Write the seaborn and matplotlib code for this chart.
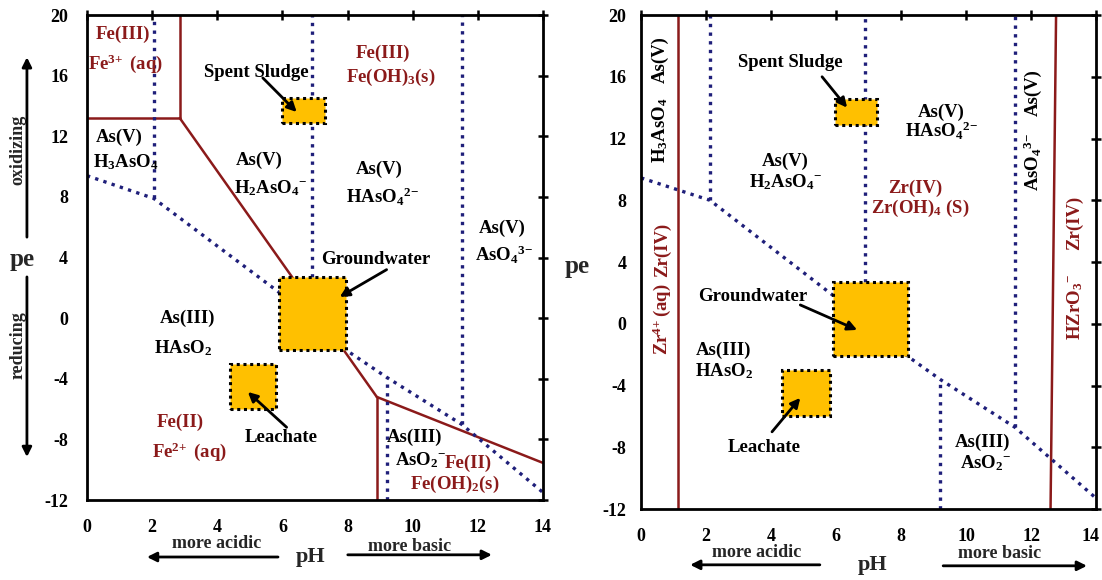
import pandas as pd
import seaborn as sns
import matplotlib.pyplot as plt
import matplotlib.transforms as mtransforms
from matplotlib.patches import Rectangle

# ---- data (pH, pe) ----
# left panel: Fe boundaries (solid red)
fe_top_ph, fe_top_pe = [0, 2.85], [13.2, 13.2]
fe_vert_ph, fe_vert_pe = [2.85, 2.85], [13.2, 20]
fe_diag_ph, fe_diag_pe = [2.85, 8.9], [13.2, -5.2]
fe_low_v_ph, fe_low_v_pe = [8.9, 8.9], [-5.2, -12]
fe_low_ph, fe_low_pe = [8.9, 14], [-5.2, -9.55]

# left panel: As boundaries (dotted blue)
as_l_redox_ph = [0, 2.05, 5.9, 7.95, 9.2, 11.5, 14]
as_l_redox_pe = [9.4, 7.9, 1.7, -2.1, -3.9, -7.0, -11.5]
as_l_vert_ph = [2.05, 6.9, 9.2, 11.5]
as_l_vert_lo = [7.9, 2.7, -12, -7.0]
as_l_vert_hi = [20, 20, -3.9, 20]

# right panel: Zr boundaries (solid red)
zr_a_ph, zr_a_pe = [1.14, 1.14], [-12, 20]
zr_b_ph, zr_b_pe = [12.6, 12.77], [-12, 20]

# right panel: As boundaries (dotted blue)
as_r_redox_ph = [0, 2.12, 5.9, 8.2, 9.2, 11.5, 14]
as_r_redox_pe = [9.45, 8.0, 1.85, -2.1, -3.6, -6.7, -11.3]
as_r_vert_ph = [2.12, 6.9, 9.2, 11.5]
as_r_vert_lo = [8.0, 2.7, -12, -6.7]
as_r_vert_hi = [20, 20, -3.6, 20]

# sample boxes: pH min, pH max, pe min, pe max
box_names = ['Spent Sludge', 'Groundwater', 'Leachate']
box_l = [(6.0, 7.3, 12.9, 14.5), (5.9, 7.95, -2.1, 2.7), (4.4, 5.8, -6.0, -3.0)]
box_r = [(5.97, 7.26, 12.9, 14.55), (5.9, 8.2, -2.1, 2.7), (4.35, 5.8, -6.0, -3.0)]

x_ticks = [0, 2, 4, 6, 8, 10, 12, 14]
y_ticks = [-12, -8, -4, 0, 4, 8, 12, 16, 20]

RED = '#8b1a1a'
BLUE = '#1f1f7a'
GOLD = '#ffc000'

sns.set_style('white')
plt.rcParams['font.family'] = ['Liberation Serif', 'DejaVu Serif']
plt.rcParams['font.weight'] = 'bold'
plt.rcParams['mathtext.fontset'] = 'custom'
plt.rcParams['mathtext.rm'] = 'Liberation Serif:bold'
plt.rcParams['mathtext.it'] = 'Liberation Serif:bold'
plt.rcParams['mathtext.bf'] = 'Liberation Serif:bold'
plt.rcParams['mathtext.default'] = 'rm'

fig = plt.figure(figsize=(11.02, 5.8), dpi=100)
ax1 = fig.add_axes([0.0789, 0.1379, 0.4138, 0.8362])
ax2 = fig.add_axes([0.5817, 0.1224, 0.4129, 0.8517])

FS = 13.5


def seg(ax, xs, ys, color, dotted=False, lw=1.8):
    df = pd.DataFrame({'pH': xs, 'pe': ys})
    kw = dict(linestyle=(0, (1, 1.6)), linewidth=2.4) if dotted else dict(linewidth=lw)
    sns.lineplot(data=df, x='pH', y='pe', ax=ax, color=color, sort=False,
                 estimator=None, legend=False, zorder=2, **kw)


def boxes(ax, bx):
    for (x0, x1, y0, y1) in bx:
        ax.add_patch(Rectangle((x0, y0), x1 - x0, y1 - y0, facecolor=GOLD,
                               edgecolor='black', linestyle=(0, (1, 1.2)),
                               linewidth=2.2, zorder=3))


def style(ax, ypad, xpad):
    ax.set_xlim(0, 14)
    ax.set_ylim(-12, 20)
    ax.set_xticks(x_ticks)
    ax.set_yticks(y_ticks)
    ax.set_xticklabels([str(t) for t in x_ticks], fontsize=13, fontweight='bold')
    ax.set_yticklabels([str(t) for t in y_ticks], fontsize=13, fontweight='bold')
    ax.tick_params(axis='both', direction='inout', length=7, width=1.8,
                   top=True, right=True, labeltop=False, labelright=False,
                   colors='black')
    ax.tick_params(axis='x', pad=xpad)
    ax.tick_params(axis='y', pad=ypad)
    for tk in ax.yaxis.get_major_ticks():
        tk.tick1line.set_color(BLUE)
    for s in ax.spines.values():
        s.set_linewidth(2.0)
        s.set_color('black')
        s.set_visible(True)
    ax.set_xlabel('')
    ax.set_ylabel('')


def t(ax, x, y, s, color='black', rot=0, fs=FS):
    ax.text(x, y, s, color=color, fontsize=fs, fontweight='bold', ha='center',
            va='center', rotation=rot, zorder=5)


def arrow(ax, xy_from, xy_to, coords='data'):
    ax.annotate('', xy=xy_to, xytext=xy_from, xycoords=coords, textcoords=coords,
                arrowprops=dict(arrowstyle='-|>', color='black', lw=2,
                                mutation_scale=14, shrinkA=0, shrinkB=0),
                annotation_clip=False, zorder=6)


# ---------------- left panel ----------------
seg(ax1, fe_top_ph, fe_top_pe, RED)
seg(ax1, fe_vert_ph, fe_vert_pe, RED)
seg(ax1, fe_diag_ph, fe_diag_pe, RED)
seg(ax1, fe_low_v_ph, fe_low_v_pe, RED)
seg(ax1, fe_low_ph, fe_low_pe, RED)
seg(ax1, as_l_redox_ph, as_l_redox_pe, BLUE, dotted=True)
for x, lo, hi in zip(as_l_vert_ph, as_l_vert_lo, as_l_vert_hi):
    seg(ax1, [x, x], [lo, hi], BLUE, dotted=True)
boxes(ax1, box_l)
style(ax1, ypad=10, xpad=10)

t(ax1, 1.1, 18.7, 'Fe(III)', RED)
t(ax1, 1.17, 16.8, r'Fe$^{3\!+}$ (aq)', RED)
t(ax1, 5.2, 16.2, 'Spent Sludge')
arrow(ax1, (5.4, 15.85), (6.44, 13.6))
t(ax1, 1.0, 11.9, 'As(V)')
t(ax1, 1.2, 10.3, 'H$_3$AsO$_4$')
t(ax1, 5.3, 10.4, 'As(V)')
t(ax1, 5.64, 8.6, 'H$_2$AsO$_4$$^{-}$')
t(ax1, 9.08, 17.5, 'Fe(III)', RED)
t(ax1, 9.33, 15.9, 'Fe(OH)$_3$(s)', RED)
t(ax1, 8.98, 9.8, 'As(V)')
t(ax1, 9.08, 8.0, r'HAsO$_4$$^{2\!-}$')
t(ax1, 12.76, 5.95, 'As(V)')
t(ax1, 12.8, 4.17, r'AsO$_4$$^{3\!-}$')
t(ax1, 8.87, 3.84, 'Groundwater')
arrow(ax1, (9.2, 3.2), (7.76, 1.4))
t(ax1, 3.1, 0.0, 'As(III)')
t(ax1, 2.94, -2.0, 'HAsO$_2$')
t(ax1, 2.85, -6.9, 'Fe(II)', RED)
t(ax1, 3.16, -8.8, r'Fe$^{2\!+}$ (aq)', RED)
t(ax1, 5.95, -7.9, 'Leachate')
arrow(ax1, (6.13, -7.2), (4.94, -4.87))
t(ax1, 10.06, -7.84, 'As(III)')
t(ax1, 10.25, -9.35, 'AsO$_2$$^{-}$')
t(ax1, 11.7, -9.55, 'Fe(II)', RED)
t(ax1, 11.29, -11.0, 'Fe(OH)$_2$(s)', RED)

tr = ax1.transAxes
ax1.text(-0.1425, 0.495, 'pe', transform=tr, fontsize=18, fontweight='bold',
         ha='center', va='center')
ax1.text(-0.151, 0.7216, 'oxidizing', transform=tr, fontsize=13, fontweight='bold',
         ha='center', va='center', rotation=90)
ax1.text(-0.151, 0.32, 'reducing', transform=tr, fontsize=13, fontweight='bold',
         ha='center', va='center', rotation=90)
arrow(ax1, (-0.1316, 0.542), (-0.1316, 0.913), coords='axes fraction')
arrow(ax1, (-0.1316, 0.46), (-0.1316, 0.0887), coords='axes fraction')
ax1.text(0.285, -0.0895, 'more acidic', transform=tr, fontsize=13,
         fontweight='bold', ha='center', va='center')
ax1.text(0.491, -0.1175, 'pH', transform=tr, fontsize=16, fontweight='bold',
         ha='center', va='center')
ax1.text(0.708, -0.0968, 'more basic', transform=tr, fontsize=13,
         fontweight='bold', ha='center', va='center')
arrow(ax1, (0.419, -0.1175), (0.1316, -0.1175), coords='axes fraction')
arrow(ax1, (0.572, -0.113), (0.888, -0.113), coords='axes fraction')

# ---------------- right panel ----------------
seg(ax2, zr_a_ph, zr_a_pe, RED)
seg(ax2, zr_b_ph, zr_b_pe, RED)
seg(ax2, as_r_redox_ph, as_r_redox_pe, BLUE, dotted=True)
for x, lo, hi in zip(as_r_vert_ph, as_r_vert_lo, as_r_vert_hi):
    seg(ax2, [x, x], [lo, hi], BLUE, dotted=True)
boxes(ax2, box_r)
style(ax2, ypad=7, xpad=10)
# keep the last pH label inside the canvas
last = ax2.get_xticklabels()[-1]
last.set_transform(last.get_transform() +
                   mtransforms.ScaledTranslation(-6 / 100, 0, fig.dpi_scale_trans))

t(ax2, 0.6, 17.1, 'As(V)', rot=90)
t(ax2, 0.6, 12.55, 'H$_3$AsO$_4$', rot=90)
t(ax2, 0.65, 4.8, 'Zr(IV)', RED, rot=90)
t(ax2, 0.65, 0.3, r'Zr$^{4\!+}$(aq)', RED, rot=90)
t(ax2, 4.6, 16.9, 'Spent Sludge')
arrow(ax2, (5.57, 16.0), (6.34, 14.0))
t(ax2, 4.43, 10.5, 'As(V)')
t(ax2, 4.46, 9.2, 'H$_2$AsO$_4$$^{-}$')
t(ax2, 9.23, 13.7, 'As(V)')
t(ax2, 9.23, 12.5, r'HAsO$_4$$^{2\!-}$')
t(ax2, 8.43, 8.75, 'Zr(IV)', RED)
t(ax2, 8.58, 7.5, 'Zr(OH)$_4$ (S)', RED)
t(ax2, 12.06, 14.95, 'As(V)', rot=90)
t(ax2, 12.06, 10.5, r'AsO$_4$$^{3\!-}$', rot=90)
t(ax2, 13.35, 6.53, 'Zr(IV)', RED, rot=90)
t(ax2, 13.35, 1.1, 'HZrO$_3$$^{-}$', RED, rot=90)
t(ax2, 3.45, 1.74, 'Groundwater')
arrow(ax2, (4.9, 1.22), (6.65, -0.4))
t(ax2, 2.55, -1.7, 'As(III)')
t(ax2, 2.55, -3.1, 'HAsO$_2$')
t(ax2, 3.8, -8.04, 'Leachate')
arrow(ax2, (4.03, -7.0), (4.9, -4.8))
t(ax2, 10.5, -7.7, 'As(III)')
t(ax2, 10.6, -9.0, 'AsO$_2$$^{-}$')

tr2 = ax2.transAxes
ax2.text(-0.1407, 0.49, 'pe', transform=tr2, fontsize=18, fontweight='bold',
         ha='center', va='center')
ax2.text(0.255, -0.089, 'more acidic', transform=tr2, fontsize=13,
         fontweight='bold', ha='center', va='center')
ax2.text(0.508, -0.113, 'pH', transform=tr2, fontsize=16, fontweight='bold',
         ha='center', va='center')
ax2.text(0.789, -0.091, 'more basic', transform=tr2, fontsize=13,
         fontweight='bold', ha='center', va='center')
arrow(ax2, (0.393, -0.113), (0.108, -0.113), coords='axes fraction')
arrow(ax2, (0.664, -0.115), (0.980, -0.115), coords='axes fraction')

fig.savefig('out.png', dpi=100)
